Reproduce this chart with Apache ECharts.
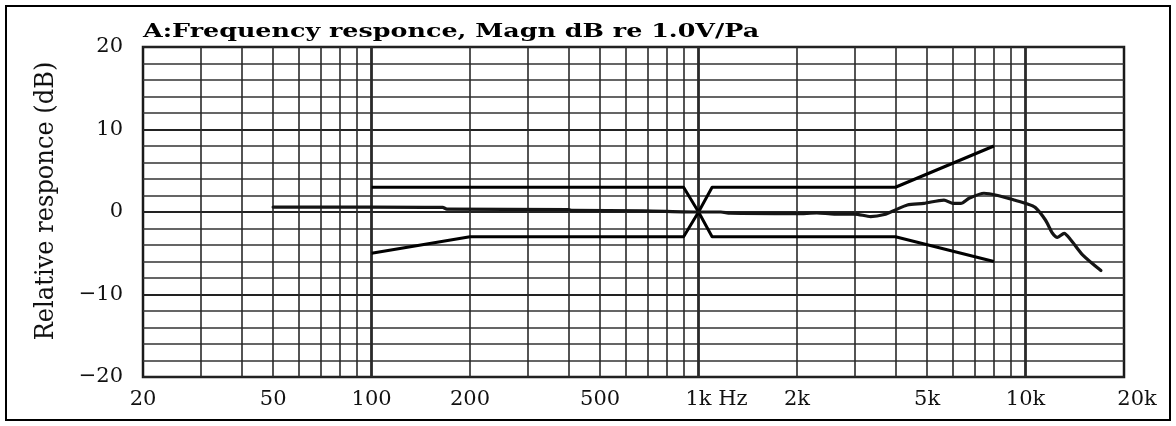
<!DOCTYPE html>
<html>
<head>
<meta charset="utf-8">
<script src="https://cdn.jsdelivr.net/npm/echarts@6/dist/echarts.min.js"></script>
<style>
html,body{margin:0;padding:0;background:#fff;}
#chart{width:1176px;height:426px;}
</style>
</head>
<body>
<div id="chart"></div>
<script>
// ---- data ----
const titleText = 'A:Frequency responce, Magn dB re 1.0V/Pa';
const yAxisTitle = 'Relative responce (dB)';
const xTickValues = [20, 50, 100, 200, 500, 1000, 2000, 5000, 10000, 20000];
const xTickLabels = ['20', '50', '100', '200', '500', '1k Hz', '2k', '5k', '10k', '20k'];
const xGridMinor = [30, 40, 50, 60, 70, 80, 90, 200, 300, 400, 500, 600, 700, 800, 900,
  2000, 3000, 4000, 5000, 6000, 7000, 8000, 9000];
const xGridMajor = [100, 1000, 10000];

const respFreq = [50, 100, 165, 170, 400, 410, 680, 1000, 1170, 1250, 2000, 2300, 2600, 3000, 3360, 3700,
  4000, 4350, 4890, 5630, 5980, 6340, 6720, 7460, 8220, 9220, 10140, 10690, 11500, 12090, 12520, 13120, 13760, 14940, 17000];
const respDb = [0.6, 0.6, 0.55, 0.35, 0.3, 0.2, 0.15, 0.0, 0.0, -0.15, -0.2, -0.12, -0.25, -0.25, -0.55, -0.3,
  0.25, 0.85, 1.05, 1.45, 1.05, 1.05, 1.66, 2.27, 2.0, 1.45, 0.97, 0.57, -0.97, -2.58, -3.07, -2.58, -3.4, -5.2, -7.1];

const upperFreq = [100, 900, 1000, 1100, 4000, 8000];
const upperDb = [3, 3, 0, 3, 3, 8];
const lowerFreq = [100, 200, 900, 1000, 1100, 4000, 8000];
const lowerDb = [-5, -3, -3, 0, -3, -3, -6];

const FONT = '"DejaVu Serif", serif';
const pair = (xs, ys) => xs.map((x, i) => [x, ys[i]]);

const chart = echarts.init(document.getElementById('chart'), null, {renderer: 'canvas'});
const gridLine = (v, w) => ({xAxis: v, lineStyle: {width: w, color: '#2a2a2a', type: 'solid'}});

chart.setOption({
  animation: false,
  backgroundColor: '#fff',
  grid: {left: 143, right: 52, top: 47, bottom: 49, show: true, borderColor: '#1a1a1a', borderWidth: 2.5, backgroundColor: 'transparent'},
  xAxis: {
    type: 'log', logBase: 10, min: 20, max: 20000,
    axisLine: {show: false}, axisTick: {show: false, customValues: xTickValues},
    splitLine: {show: false},
    axisLabel: {
      customValues: xTickValues,
      margin: 12, color: '#111', fontSize: 21, fontFamily: FONT,
      formatter: v => {
        const i = xTickValues.indexOf(v);
        const t = i >= 0 ? xTickLabels[i] : '';
        if (v === 1000) return '{sp|}{t|' + t + '}';
        if (v === 20000) return '{k|' + t + '}';
        return t;
      },
      rich: {
        sp: {width: 36},
        t: {fontSize: 21, fontFamily: FONT, color: '#111'},
        k: {fontSize: 21, fontFamily: FONT, color: '#111', padding: [0, 0, 8, 26]}
      }
    }
  },
  yAxis: {
    type: 'value', min: -20, max: 20, interval: 10,
    axisLine: {show: false}, axisTick: {show: false},
    axisLabel: {margin: 20, color: '#111', fontSize: 21, fontFamily: FONT,
      formatter: v => String(v).replace('-', '\u2212')},
    splitLine: {show: true, lineStyle: {color: '#222', width: 2.2}},
    minorTick: {show: false, splitNumber: 5},
    minorSplitLine: {show: true, lineStyle: {color: '#333', width: 1.5}}
  },
  graphic: [
    {type: 'rect', shape: {x: 6, y: 6, width: 1164, height: 414}, style: {fill: 'none', stroke: '#000', lineWidth: 2}, z: 100},
    {type: 'text', x: 143, y: 32, scaleX: 1.41, style: {text: titleText, font: 'bold 18px ' + FONT, fill: '#000', verticalAlign: 'middle', align: 'left'}, z: 100},
    {type: 'text', x: 46, y: 201, rotation: Math.PI / 2, scaleX: 1.27, scaleY: 1.4, style: {text: yAxisTitle, font: '19px ' + FONT, fill: '#111', verticalAlign: 'middle', align: 'center'}, z: 100}
  ],
  series: [
    {
      name: 'grid', type: 'line', data: [], z: 1, silent: true,
      markLine: {
        silent: true, symbol: ['none', 'none'], animation: false, label: {show: false},
        data: xGridMinor.map(v => gridLine(v, 1.6)).concat(xGridMajor.map(v => gridLine(v, 2.8)))
      }
    },
    {
      name: 'upper', type: 'line', data: pair(upperFreq, upperDb), showSymbol: false, z: 5,
      lineStyle: {color: '#000', width: 3, join: 'round'}
    },
    {
      name: 'lower', type: 'line', data: pair(lowerFreq, lowerDb), showSymbol: false, z: 5,
      lineStyle: {color: '#000', width: 3, join: 'round'}
    },
    {
      name: 'response', type: 'line', data: pair(respFreq, respDb), showSymbol: false, z: 6, smooth: 0.25,
      lineStyle: {color: '#151515', width: 3.2, join: 'round', cap: 'round'}
    }
  ]
});
</script>
</body>
</html>
